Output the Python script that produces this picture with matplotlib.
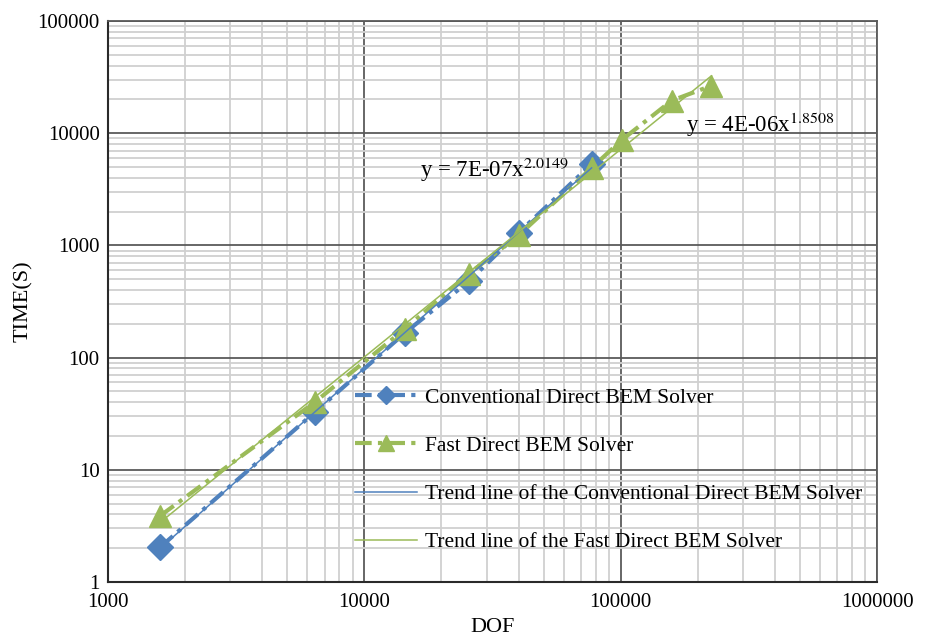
import matplotlib
matplotlib.use('Agg')
import matplotlib.pyplot as plt
import numpy as np
from matplotlib.ticker import LogLocator, FixedLocator, NullFormatter

plt.rcParams['font.family'] = ['Liberation Serif', 'DejaVu Serif']

# data
dof_conv = [1600, 6400, 14400, 25600, 40000, 77000]
time_conv = [2.05, 32.5, 166, 480, 1300, 5300]

dof_fast = [1600, 6400, 14400, 25600, 40000, 77000, 101000, 158000, 226000]
time_fast = [3.9, 40, 180, 560, 1230, 4900, 8700, 19500, 26500]

# power-law trend lines y = a * x^b (as printed on the chart)
conv_a, conv_b = 7e-07, 2.0149
fast_a, fast_b = 4e-06, 1.8508

blue = '#4F81BD'
green = '#9BBB59'

W, H = 925, 638
fig = plt.figure(figsize=(W / 100, H / 100), dpi=100)
ax = fig.add_axes([108 / W, 1 - 582 / H, (877 - 108) / W, (582 - 21) / H])

ax.plot(dof_conv, time_conv, color=blue, lw=3, ls=(0, (4, 1.5, 1, 1.5)),
        marker='D', ms=13, label='Conventional Direct BEM Solver', zorder=4)
ax.plot(dof_fast, time_fast, color=green, lw=3, ls=(0, (4, 1.5, 1, 1.5)),
        marker='^', ms=16, label='Fast Direct BEM Solver', zorder=4)

xc = np.array([dof_conv[0], dof_conv[-1]], dtype=float)
xf = np.array([dof_fast[0], dof_fast[-1]], dtype=float)
ax.plot(xc, conv_a * xc ** conv_b, color=blue, lw=1.1,
        label='Trend line of the Conventional Direct BEM Solver', zorder=5)
ax.plot(xf, fast_a * xf ** fast_b, color=green, lw=1.1,
        label='Trend line of the Fast Direct BEM Solver', zorder=5)

ax.set_xscale('log')
ax.set_yscale('log')
ax.set_xlim(1000, 1000000)
ax.set_ylim(1, 100000)

ax.xaxis.set_major_locator(FixedLocator([1e3, 1e4, 1e5, 1e6]))
ax.yaxis.set_major_locator(FixedLocator([1, 10, 100, 1e3, 1e4, 1e5]))
ax.set_xticklabels(['1000', '10000', '100000', '1000000'])
ax.set_yticklabels(['1', '10', '100', '1000', '10000', '100000'])
ax.xaxis.set_minor_locator(LogLocator(base=10, subs=np.arange(2, 10)))
ax.yaxis.set_minor_locator(LogLocator(base=10, subs=np.arange(2, 10)))
ax.xaxis.set_minor_formatter(NullFormatter())
ax.yaxis.set_minor_formatter(NullFormatter())

ax.grid(which='major', color='#5a5a5a', lw=1.3)
ax.grid(which='minor', color='#d0d0d0', lw=1.3)
ax.set_axisbelow(True)
ax.tick_params(which='both', length=0, labelsize=15)
ax.tick_params(axis='y', pad=6)
ax.tick_params(axis='x', pad=8)

for s in ['top', 'right']:
    ax.spines[s].set_color('#5a5a5a')
    ax.spines[s].set_linewidth(1.3)
for s in ['left', 'bottom']:
    ax.spines[s].set_color('#2a2a2a')
    ax.spines[s].set_linewidth(1.5)

ax.set_xlabel('DOF', fontsize=16, labelpad=4)
ax.set_ylabel('TIME(S)', fontsize=16, labelpad=3)

fig.text(420 / W, 1 - 170 / H, r'y = 7E-07x$^{2.0149}$', fontsize=16.5,
         va='center', ha='left', math_fontfamily='stix')
fig.text(686 / W, 1 - 125 / H, r'y = 4E-06x$^{1.8508}$', fontsize=16.5,
         va='center', ha='left', math_fontfamily='stix')

leg = ax.legend(loc='center left', bbox_to_anchor=(355 / W, 1 - 470 / H),
                bbox_transform=fig.transFigure, frameon=False,
                fontsize=15.5, labelspacing=1.3, handlelength=2.9,
                handletextpad=0.35, borderpad=0, borderaxespad=0,
                markerscale=0.7)

fig.savefig('out.png', dpi=100)
